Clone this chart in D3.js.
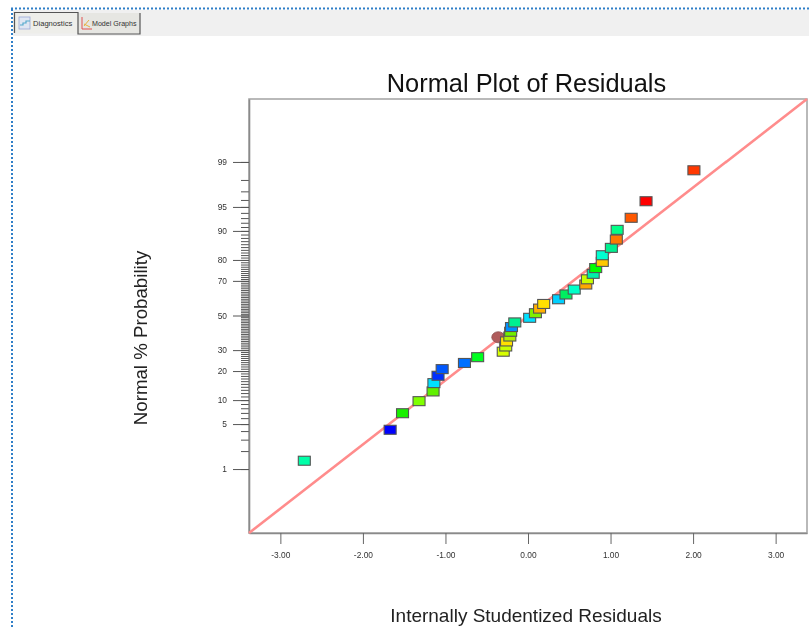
<!DOCTYPE html>
<html>
<head>
    <meta charset="utf-8">
    <title>Normal Plot of Residuals</title>
    <script src="https://d3js.org/d3.v7.min.js"></script>
    <style>
        html, body { margin: 0; padding: 0; background: #fff; overflow: hidden; }
        svg { display: block; font-family: "Liberation Sans", Arial, sans-serif; }
    </style>
</head>
<body>
<div id="chart"></div>
<script type="text/javascript">
    // residuals
    const residuals = [-2.71, -1.67, -1.52, -1.32, -1.15, -1.14, -1.09, -1.04, -0.77, -0.61, -0.30, -0.27,
        -0.26, -0.22, -0.21, -0.20, -0.16, 0.02, 0.09, 0.14, 0.19, 0.37, 0.46, 0.56,
        0.70, 0.72, 0.79, 0.82, 0.90, 0.90, 1.01, 1.07, 1.08, 1.25, 1.43, 2.01];
    const probabilities = [1.39, 4.17, 6.94, 9.72, 12.5, 15.28, 18.06, 20.83, 23.61, 26.39, 29.17, 31.94,
        34.72, 37.5, 40.28, 43.06, 45.83, 48.61, 51.39, 54.17, 56.94, 59.72, 62.5, 65.28,
        68.06, 70.83, 73.61, 76.39, 79.17, 81.94, 84.72, 87.5, 90.28, 93.06, 95.83, 98.61];
    const pointColors = ['#00ffa8', '#0000ff', '#18f000', '#80ff00', '#60f000', '#00e0ff', '#0030ff', '#0058ff',
        '#0070ff', '#00ff20', '#d8ff00', '#c8ff00', '#ffe000', '#b0f000', '#70f000', '#0090ff',
        '#00f090', '#00e0ff', '#80f000', '#ffb000', '#ffe000', '#00d0ff', '#00f060', '#00ffc8',
        '#ffa800', '#c8ff00', '#00f0a8', '#00ff00', '#ffc800', '#00ffd0', '#00f090', '#ff7800',
        '#00ff88', '#ff5800', '#ff0000', '#ff3800'];

    // the highlighted round point
    const circleResidual = -0.36;
    const circleProbability = 37.1;

    const xTicks = [-3, -2, -1, 0, 1, 2, 3];
    const yLabelled = [1, 5, 10, 20, 30, 50, 70, 80, 90, 95, 99];
    const yMinor = d3.range(1, 100);

    const width = 809;
    const height = 629;
    const plot = {left: 249, right: 807, top: 99, bottom: 533};

    // inverse normal cdf (Acklam), d3 has none
    function probit(p) {
        const a = [-39.69683028665376, 220.9460984245205, -275.9285104469687, 138.3577518672690, -30.66479806614716, 2.506628277459239];
        const b = [-54.47609879822406, 161.5858368580409, -155.6989798598866, 66.80131188771972, -13.28068155288572];
        const c = [-0.007784894002430293, -0.3223964580411365, -2.400758277161838, -2.549732539343734, 4.374664141464968, 2.938163982698783];
        const d = [0.007784695709041462, 0.3224671290700398, 2.445134137142996, 3.754408661907416];
        if (p < 0.02425) {
            const q = Math.sqrt(-2 * Math.log(p));
            return (((((c[0] * q + c[1]) * q + c[2]) * q + c[3]) * q + c[4]) * q + c[5]) / ((((d[0] * q + d[1]) * q + d[2]) * q + d[3]) * q + 1);
        }
        if (p > 1 - 0.02425) return -probit(1 - p);
        const q = p - 0.5, r = q * q;
        return (((((a[0] * r + a[1]) * r + a[2]) * r + a[3]) * r + a[4]) * r + a[5]) * q / (((((b[0] * r + b[1]) * r + b[2]) * r + b[3]) * r + b[4]) * r + 1);
    }
    const z = pct => probit(pct / 100);

    const x = d3.scaleLinear().domain([-3.38, 3.38]).range([plot.left, plot.right]);
    const y = d3.scaleLinear().domain([-3.295, 3.28]).range([plot.bottom, plot.top]);

    const svg = d3.select('#chart').append('svg').attr('width', width).attr('height', height)
        .style('filter', 'blur(0.45px)');

    // toolbar strip
    svg.append('rect').attr('x', 13).attr('y', 10).attr('width', width - 13).attr('height', 26).attr('fill', '#f0f0f0');
    const dots = svg.append('g').attr('fill', 'none').attr('stroke', '#2f7fc8').attr('stroke-width', 2).attr('stroke-dasharray', '2 2');
    dots.append('line').attr('x1', 11).attr('x2', width).attr('y1', 8.5).attr('y2', 8.5);
    dots.append('line').attr('x1', 12).attr('x2', 12).attr('y1', 9).attr('y2', height);

    const tabs = [{x: 15, w: 63, label: 'Diagnostics', size: 7.6, dx: 18}, {x: 78, w: 62, label: 'Model Graphs', size: 7.1, dx: 14}];
    tabs.forEach((t, i) => {
        svg.append('rect').attr('x', t.x).attr('y', 13).attr('width', t.w).attr('height', 20.5)
            .attr('fill', i === 0 ? '#eeeeea' : '#e6e6e2');
        svg.append('text').attr('x', t.x + t.dx).attr('y', 26).attr('font-size', t.size).attr('fill', '#333').text(t.label);
    });
    svg.append('path').attr('d', 'M14.5,33 V12.5 H78 V34 H140 V13').attr('fill', 'none').attr('stroke', '#555').attr('stroke-width', 1.2);
    // tab icons
    svg.append('rect').attr('x', 19).attr('y', 17).attr('width', 11).attr('height', 12).attr('fill', '#dfe6f2').attr('stroke', '#9aa8d8').attr('stroke-width', 0.8);
    svg.append('path').attr('d', 'M20,25 h3 v-2 h3 v-2 h4').attr('fill', 'none').attr('stroke', '#55aacc').attr('stroke-width', 1.2);
    svg.append('path').attr('d', 'M82,17 V29 H92').attr('fill', 'none').attr('stroke', '#e05050').attr('stroke-width', 1);
    svg.append('path').attr('d', 'M84,26 L89,20 M84,24 L90,27').attr('fill', 'none').attr('stroke', '#e8b040').attr('stroke-width', 1);

    // plot frame
    svg.append('rect').attr('x', plot.left).attr('y', plot.top).attr('width', plot.right - plot.left).attr('height', plot.bottom - plot.top)
        .attr('fill', '#fff').attr('stroke', '#a8a8a8').attr('stroke-width', 1.6);

    // axes
    const axisBottom = svg.append('g').attr('transform', `translate(0,${plot.bottom})`)
        .call(d3.axisBottom(x).tickValues(xTicks).tickSize(11).tickSizeOuter(0).tickPadding(8).tickFormat(d => d3.format('.2f')(d).replace('\u2212', '-')));
    axisBottom.select('.domain').attr('stroke', '#8a8a8a').attr('stroke-width', 1.6);
    axisBottom.selectAll('line').attr('stroke', '#666');
    axisBottom.selectAll('text').attr('font-size', 8.4).attr('fill', '#333').attr('font-family', 'Liberation Sans');

    const axisMinor = svg.append('g').attr('transform', `translate(${plot.left},0)`)
        .call(d3.axisLeft(y).tickValues(yMinor.map(z)).tickSize(8).tickSizeOuter(0).tickFormat(''));
    axisMinor.select('.domain').remove();
    axisMinor.selectAll('line').attr('stroke', '#555');

    const axisLeft = svg.append('g').attr('transform', `translate(${plot.left},0)`)
        .call(d3.axisLeft(y).tickValues(yLabelled.map(z)).tickSize(16).tickSizeOuter(0).tickPadding(6).tickFormat((d, i) => yLabelled[i]));
    axisLeft.select('.domain').attr('stroke', '#8a8a8a').attr('stroke-width', 1.6);
    axisLeft.selectAll('line').attr('stroke', '#555');
    axisLeft.selectAll('text').attr('font-size', 8.4).attr('fill', '#333').attr('font-family', 'Liberation Sans');

    // normal line, corner to corner
    svg.append('line')
        .attr('x1', x(x.domain()[0])).attr('y1', y(y.domain()[0]))
        .attr('x2', x(x.domain()[1])).attr('y2', y(y.domain()[1]))
        .attr('stroke', '#ff8c8c').attr('stroke-width', 2.6);

    // points
    svg.append('ellipse')
        .attr('cx', x(circleResidual)).attr('cy', y(z(circleProbability)))
        .attr('rx', 6.5).attr('ry', 5.5)
        .attr('fill', '#b05c5c').attr('stroke', '#8c5050').attr('stroke-width', 0.8);

    const boxW = 12, boxH = 9;
    svg.append('g').selectAll('rect')
        .data(residuals)
        .enter()
        .append('rect')
        .attr('x', d => x(d) - boxW / 2)
        .attr('y', (d, i) => y(z(probabilities[i])) - boxH / 2)
        .attr('width', boxW)
        .attr('height', boxH)
        .attr('fill', (d, i) => pointColors[i])
        .attr('stroke', '#555')
        .attr('stroke-width', 1.1);

    // titles
    svg.append('text').attr('x', 526.5).attr('y', 92).attr('text-anchor', 'middle')
        .attr('font-size', 25.4).attr('fill', '#111').text('Normal Plot of Residuals');
    svg.append('text').attr('x', 526).attr('y', 622).attr('text-anchor', 'middle')
        .attr('font-size', 19).attr('fill', '#222').text('Internally Studentized Residuals');
    svg.append('text').attr('transform', 'translate(147,338) rotate(-90)').attr('text-anchor', 'middle')
        .attr('font-size', 18.7).attr('fill', '#222').text('Normal % Probability');
</script>
</body>
</html>
